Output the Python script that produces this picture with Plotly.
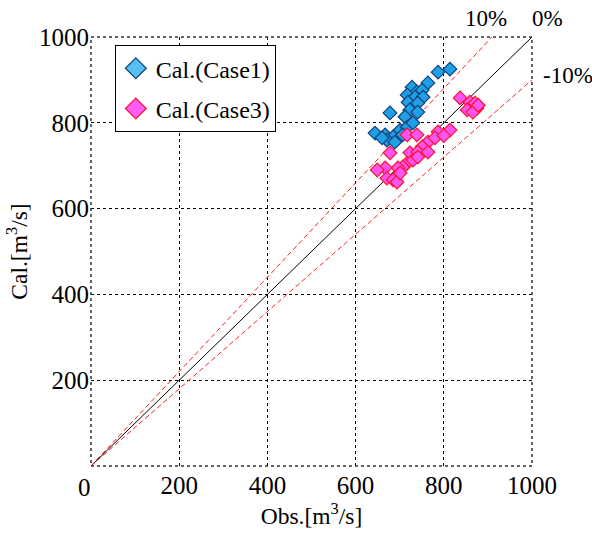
import plotly.graph_objects as go

# Data
case1_obs = [814, 787, 764, 728, 739, 751, 717, 735, 753, 719, 741, 678, 723, 741, 712,
             701, 717, 644, 667, 685, 671, 689, 707, 660, 730]
case1_cal = [925, 918, 893, 883, 872, 876, 865, 860, 860, 848, 846, 823, 830, 825, 814,
             783, 790, 776, 772, 767, 760, 755, 772, 765, 800]
case3_obs = [837, 859, 871, 875, 853, 866, 878, 787, 814, 717, 739, 764, 780, 751, 723,
             741, 678, 717, 707, 696, 667, 649, 671, 685, 694, 701, 730, 741, 764, 800]
case3_cal = [858, 848, 846, 834, 830, 825, 841, 779, 783, 772, 772, 755, 765, 744, 730,
             732, 730, 706, 697, 695, 695, 690, 671, 667, 662, 683, 713, 720, 732, 770]
ref_ratios = [1.1, 1.0, 0.9]
ref_labels = ["10%", "0%", "-10%"]
ticks = [200, 400, 600, 800, 1000]
series_names = ["Cal.(Case1)", "Cal.(Case3)"]

fig = go.Figure()

# reference lines
axis_max = 1000
for r in ref_ratios:
    x_end = min(axis_max, axis_max / r)
    fig.add_trace(go.Scatter(
        x=[0, x_end], y=[0, x_end * r], mode="lines", showlegend=False,
        line=dict(color="black" if r == 1.0 else "#ff2020", width=1,
                  dash="solid" if r == 1.0 else "5px,3px"),
        hoverinfo="skip"))

fig.add_trace(go.Scatter(
    x=case1_obs, y=case1_cal, mode="markers", name=series_names[0], showlegend=False,
    marker=dict(symbol="diamond", size=10.5, color="#1ea0e6",
                line=dict(color="#123f7a", width=1.2))))
fig.add_trace(go.Scatter(
    x=case3_obs, y=case3_cal, mode="markers", name=series_names[1], showlegend=False,
    marker=dict(symbol="diamond", size=10.5, color="#ff55f0",
                line=dict(color="#ff1030", width=1.2))))

# legend entries (bigger symbols, like the reference legend)
fig.add_trace(go.Scatter(
    x=[None], y=[None], mode="markers", name=series_names[0], legendgroup="a",
    marker=dict(symbol="diamond", size=16, color="#55bff2",
                line=dict(color="#123f7a", width=1.2))))
fig.add_trace(go.Scatter(
    x=[None], y=[None], mode="markers", name=series_names[1], legendgroup="b",
    marker=dict(symbol="diamond", size=16, color="#ff5cf8",
                line=dict(color="#ff1030", width=1.2))))

font = "Liberation Serif, Times New Roman, serif"
axis_common = dict(range=[0, 1000], tickvals=ticks, ticks="", showline=False,
                   showgrid=True, gridcolor="black", gridwidth=1, griddash="3px,3px",
                   zeroline=False, tickfont=dict(size=25))
fig.update_layout(
    width=592, height=536,
    margin=dict(l=91, r=60, t=37, b=70),
    paper_bgcolor="white", plot_bgcolor="white",
    font=dict(family=font, size=22, color="black"),
    xaxis=dict(**axis_common, ticklabelstandoff=2,
               title=dict(text="Obs.[m<sup>3</sup>/s]", font=dict(size=23.5), standoff=8)),
    yaxis=dict(**axis_common, ticklabelstandoff=1,
               title=dict(text="Cal.[m<sup>3</sup>/s]", font=dict(size=23.5), standoff=4)),
    legend=dict(x=0.054, y=0.981, xanchor="left", yanchor="top",
                bordercolor="black", borderwidth=1, bgcolor="white",
                font=dict(size=24), traceorder="grouped", tracegroupgap=6,
                entrywidth=134),
    shapes=[dict(type="rect", xref="paper", yref="paper", x0=0, y0=0, x1=1, y1=1,
                 line=dict(color="#333333", width=1.5, dash="dot"))],
    annotations=[
        dict(text="0", xref="paper", yref="paper", x=-0.014, y=-0.015,
             xanchor="center", yanchor="top", showarrow=False, font=dict(size=25)),
        dict(text=ref_labels[0], xref="paper", yref="paper", x=0.895, y=1.01,
             xanchor="center", yanchor="bottom", showarrow=False, font=dict(size=23)),
        dict(text=ref_labels[1], xref="paper", yref="paper", x=1.035, y=1.01,
             xanchor="center", yanchor="bottom", showarrow=False, font=dict(size=23)),
        dict(text=ref_labels[2], xref="paper", yref="paper", x=1.02, y=0.91,
             xanchor="left", yanchor="middle", showarrow=False, font=dict(size=23)),
    ],
)

fig.write_html("out.html")
